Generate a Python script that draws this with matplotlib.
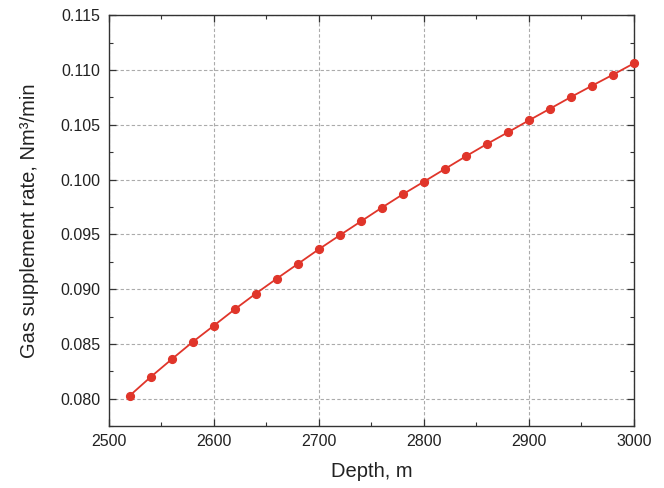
import numpy as np
import matplotlib
matplotlib.use("Agg")
import matplotlib.pyplot as plt
from matplotlib.ticker import MultipleLocator

plt.rcParams['font.family'] = ['Liberation Sans', 'DejaVu Sans']

# Data
depth = [2520, 2540, 2560, 2580, 2600, 2620, 2640, 2660, 2680, 2700,
         2720, 2740, 2760, 2780, 2800, 2820, 2840, 2860, 2880, 2900,
         2920, 2940, 2960, 2980, 3000]
rate = [0.08027, 0.08198, 0.08360, 0.08518, 0.08666, 0.08816, 0.08959, 0.09096,
        0.09230, 0.09364, 0.09492, 0.09618, 0.09744, 0.09866, 0.09981, 0.10097,
        0.10213, 0.10325, 0.10432, 0.10541, 0.10647, 0.10754, 0.10857, 0.10958,
        0.11062]

fig = plt.figure(figsize=(6.64, 4.88), dpi=100)
ax = fig.add_axes([0.1637, 0.127, 0.7911, 0.8416])

ax.plot(depth, rate, color="#e0352a", lw=1.3, marker="o", markersize=5.6,
        markeredgecolor="#e0352a", zorder=3, clip_on=False)

ax.set_xlim(2500, 3000)
ax.set_ylim(0.0775, 0.115)
ax.xaxis.set_major_locator(MultipleLocator(100))
ax.xaxis.set_minor_locator(MultipleLocator(50))
ax.yaxis.set_major_locator(MultipleLocator(0.005))
ax.yaxis.set_minor_locator(MultipleLocator(0.0025))
ax.yaxis.set_major_formatter(plt.FuncFormatter(lambda v, p: "%.3f" % v))

ax.grid(True, which="major", color="#ababab", linestyle=(0, (3, 2)), lw=0.8)
ax.tick_params(which="both", direction="in", top=True, right=True,
               color="#333333", labelsize=11.5, labelcolor="#222222")
ax.tick_params(which="major", length=5, width=0.9, pad=6)
ax.tick_params(which="minor", length=3, width=0.8)
for s in ax.spines.values():
    s.set_color("#333333")
    s.set_linewidth(1.0)

ax.set_xlabel("Depth, m", fontsize=14.5, color="#222222", labelpad=9)
ax.set_ylabel("Gas supplement rate, Nm³/min", fontsize=14.5, color="#222222", labelpad=15)

fig.savefig("out.png", dpi=100)
